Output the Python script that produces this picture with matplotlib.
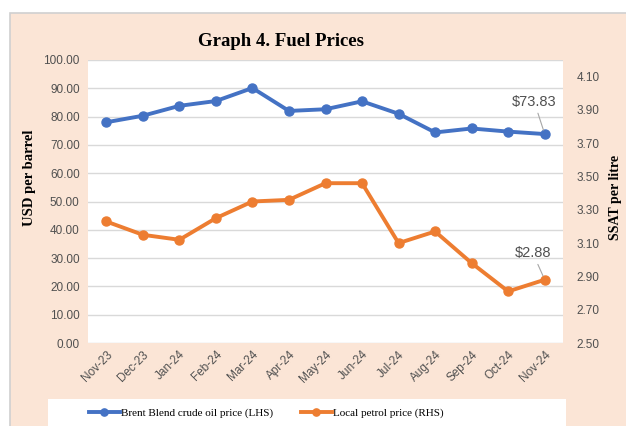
import matplotlib
matplotlib.use("Agg")
from matplotlib import pyplot as plt
from matplotlib.patches import Rectangle
import numpy as np

# data
months = ['Nov-23', 'Dec-23', 'Jan-24', 'Feb-24', 'Mar-24', 'Apr-24', 'May-24',
          'Jun-24', 'Jul-24', 'Aug-24', 'Sep-24', 'Oct-24', 'Nov-24']
brent = [78.0, 80.3, 83.8, 85.5, 90.1, 82.0, 82.6, 85.4, 81.0, 74.4, 75.8, 74.7, 73.83]
petrol = [3.23, 3.15, 3.12, 3.25, 3.35, 3.36, 3.46, 3.46, 3.10, 3.17, 2.98, 2.81, 2.88]

BLUE = '#4472C4'
ORANGE = '#ED7D31'
PEACH = '#FBE5D6'
GREY = '#505050'
SANS = ['Liberation Sans', 'DejaVu Sans']
SERIF = ['Liberation Serif', 'DejaVu Serif']

W, H = 626, 426
fig = plt.figure(figsize=(W / 100, H / 100), dpi=100)
fig.patch.set_facecolor('white')

def fx(px): return px / W
def fy(py): return 1 - py / H

# peach chart area with thin grey border
fig.patches.append(Rectangle((fx(10), -0.05), 1.0, fy(13) + 0.05, transform=fig.transFigure,
                             facecolor=PEACH, edgecolor='#D0D0D0', linewidth=1.2, zorder=-3))
# white legend box
fig.patches.append(Rectangle((fx(48), -0.05), fx(566) - fx(48), fy(399) + 0.05,
                             transform=fig.transFigure, facecolor='white', edgecolor='none', zorder=-2))

ax = fig.add_axes([fx(88), fy(343), fx(563) - fx(88), fy(60) - fy(343)])
ax.set_facecolor('white')
x = np.arange(len(months))

ax.plot(x, brent, color=BLUE, lw=2.8, marker='o', ms=6.5, zorder=3,
        label='Brent Blend crude oil price (LHS)')
ax.set_ylim(0, 100)
ax.set_yticks(np.arange(0, 101, 10))
ax.set_yticklabels([f'{v:.2f}' for v in np.arange(0, 101, 10)])
ax.set_xlim(-0.5, len(months) - 0.5)
ax.set_xticks(x)
ax.set_xticklabels(months, rotation=45, ha='right', va='top', rotation_mode='anchor')
ax.grid(axis='y', color='#D9D9D9', lw=1)
ax.set_axisbelow(True)
for s in ax.spines.values():
    s.set_visible(False)
ax.tick_params(length=0, colors=GREY, labelsize=8.5, pad=6)
ax.tick_params(axis='x', pad=4)
for t in ax.get_xticklabels() + ax.get_yticklabels():
    t.set_family(SANS)
    t.set_color(GREY)

ax2 = ax.twinx()
ax2.plot(x, petrol, color=ORANGE, lw=2.8, marker='o', ms=6.5, zorder=3,
         label='Local petrol price (RHS)')
ax2.set_ylim(2.5, 4.2)
rt = np.arange(2.5, 4.11, 0.2)
ax2.set_yticks(rt)
ax2.set_yticklabels([f'{v:.2f}' for v in rt])
for s in ax2.spines.values():
    s.set_visible(False)
ax2.tick_params(length=0, colors=GREY, labelsize=8.5, pad=10)
for t in ax2.get_yticklabels():
    t.set_family(SANS)
    t.set_color(GREY)

# data labels on the last points
ax.annotate(f'${brent[-1]:.2f}', xy=(x[-1], brent[-1]), xytext=(-7.5, 23),
            textcoords='offset points', ha='center', va='center', fontsize=10.5,
            family=SANS, color=GREY,
            arrowprops=dict(arrowstyle='-', color='#A6A6A6', lw=0.8, shrinkA=1, shrinkB=3))
ax2.annotate(f'${petrol[-1]:.2f}', xy=(x[-1], petrol[-1]), xytext=(-8.5, 19),
             textcoords='offset points', ha='center', va='center', fontsize=10.5,
             family=SANS, color=GREY,
             arrowprops=dict(arrowstyle='-', color='#A6A6A6', lw=0.8, shrinkA=1, shrinkB=3))

fig.text(fx(281), fy(41), 'Graph 4. Fuel Prices', ha='center', va='center',
         fontsize=13.5, fontweight='bold', family=SERIF)
fig.text(fx(30), fy(178), 'USD per barrel', rotation=90, ha='center', va='center',
         fontsize=10.5, fontweight='bold', family=SERIF)
fig.text(fx(615), fy(197), 'SSAT per litre', rotation=90, ha='center', va='center',
         fontsize=10, fontweight='bold', family=SERIF)

h1, l1 = ax.get_legend_handles_labels()
h2, l2 = ax2.get_legend_handles_labels()
leg = fig.legend(h1 + h2, l1 + l2, loc='center', bbox_to_anchor=(fx(266), fy(413)),
                 ncol=2, frameon=False, prop={'family': SERIF, 'size': 8},
                 handlelength=2.8, columnspacing=2.5, handletextpad=0.1, markerscale=0.8)

fig.savefig('out.png', dpi=100)
